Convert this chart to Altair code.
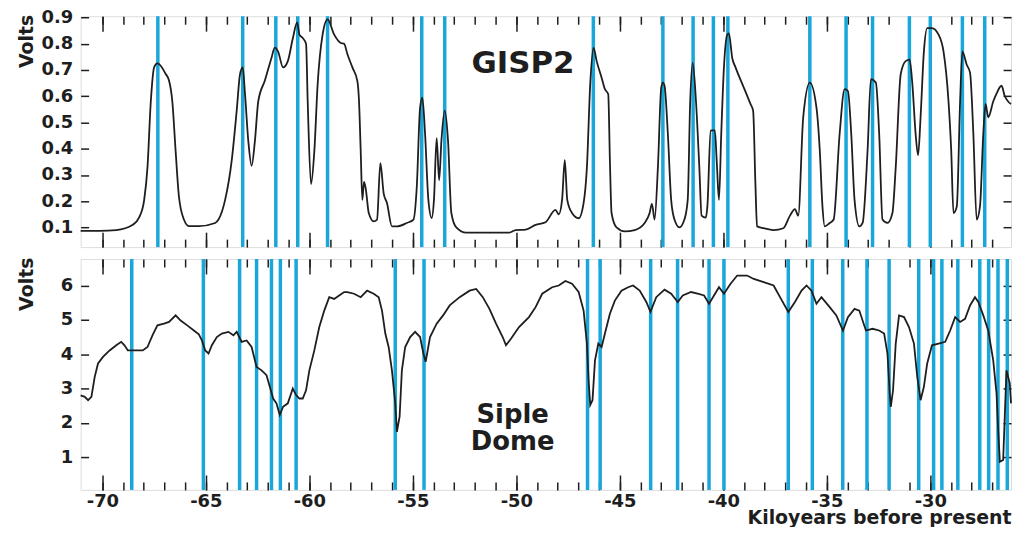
import altair as alt
import pandas as pd

BLUE = "#19a6d9"
INK = "#1e1e1e"
FONT = "DejaVu Sans"

X_DOMAIN = [-71.05, -26.1]
X_MAJOR = [-70, -65, -60, -55, -50, -45, -40, -35, -30]
X_MINOR = [-70, -69, -68, -67, -66, -65, -64, -63, -62, -61, -60, -59, -58, -57,
           -56, -55, -54, -53, -52, -51, -50, -49, -48, -47, -46, -45, -44, -43,
           -42, -41, -40, -39, -38, -37, -36, -35, -34, -33, -32, -31, -30, -29,
           -28, -27]

# ---- GISP2 (top panel) ----
GISP_K = [-71.05, -70.13, -69.33, -68.53, -68.21, -67.98, -67.82, -67.66, -67.50, -67.34,
          -66.94, -66.78, -66.62, -66.46, -66.30, -66.06, -65.82, -65.34, -64.55, -64.39,
          -64.07, -63.75, -63.51, -63.35, -63.22, -63.11, -62.95, -62.79, -62.63, -62.47,
          -62.15, -61.83, -61.67, -61.51, -61.27, -61.04, -60.80, -60.59, -60.48, -60.32,
          -60.16, -60.08, -59.92, -59.76, -59.60, -59.36, -59.12, -58.80, -58.48, -58.32,
          -58.16, -57.92, -57.68, -57.60, -57.52, -57.44, -57.36, -57.28, -57.13, -56.89,
          -56.73, -56.57, -56.41, -56.25, -56.01, -55.77, -55.29, -54.97, -54.81, -54.65,
          -54.54, -54.41, -54.25, -54.09, -53.98, -53.85, -53.73, -53.62, -53.46, -53.30,
          -53.14, -52.90, -52.42, -51.94, -51.14, -50.34, -50.03, -49.55, -49.07, -48.59,
          -48.11, -47.95, -47.79, -47.66, -47.54, -47.31, -46.99, -46.75, -46.59, -46.43,
          -46.27, -46.12, -45.88, -45.72, -45.56, -45.48, -45.40, -45.16, -44.76, -44.28,
          -43.80, -43.56, -43.45, -43.32, -43.16, -43.00, -42.92, -42.84, -42.68, -42.52,
          -42.36, -42.12, -41.88, -41.72, -41.60, -41.48, -41.32, -41.16, -41.05, -40.85,
          -40.77, -40.61, -40.53, -40.41, -40.32, -40.21, -40.10, -39.97, -39.81, -39.73,
          -39.57, -39.41, -39.01, -38.69, -38.56, -38.45, -38.37, -38.05, -37.57, -37.10,
          -36.78, -36.54, -36.38, -36.14, -35.82, -35.50, -35.34, -35.21, -35.10, -34.86,
          -34.67, -34.38, -34.14, -33.98, -33.82, -33.66, -33.43, -33.27, -33.03, -32.87,
          -32.63, -32.47, -32.31, -32.07, -31.83, -31.67, -31.43, -31.19, -31.00, -30.87,
          -30.71, -30.59, -30.47, -30.31, -30.15, -29.92, -29.60, -29.36, -29.12, -28.99,
          -28.88, -28.72, -28.56, -28.45, -28.24, -28.08, -27.92, -27.76, -27.60, -27.44,
          -27.33, -27.20, -26.96, -26.80, -26.56, -26.40, -26.24, -26.10]
GISP_V = [0.087, 0.087, 0.090, 0.110, 0.140, 0.205, 0.330, 0.580, 0.710, 0.725,
          0.685, 0.660, 0.580, 0.390, 0.217, 0.130, 0.105, 0.105, 0.117, 0.130,
          0.205, 0.356, 0.545, 0.684, 0.710, 0.610, 0.430, 0.335, 0.430, 0.580,
          0.660, 0.746, 0.785, 0.770, 0.710, 0.734, 0.820, 0.882, 0.835, 0.822,
          0.800, 0.580, 0.265, 0.390, 0.645, 0.835, 0.893, 0.835, 0.803, 0.800,
          0.760, 0.710, 0.658, 0.580, 0.394, 0.205, 0.274, 0.250, 0.155, 0.123,
          0.130, 0.345, 0.230, 0.193, 0.104, 0.104, 0.117, 0.130, 0.255, 0.557,
          0.595, 0.457, 0.205, 0.136, 0.205, 0.440, 0.280, 0.430, 0.545, 0.430,
          0.155, 0.100, 0.080, 0.080, 0.080, 0.080, 0.090, 0.092, 0.110, 0.120,
          0.167, 0.150, 0.205, 0.356, 0.205, 0.155, 0.135, 0.193, 0.330, 0.646,
          0.784, 0.734, 0.671, 0.627, 0.608, 0.356, 0.155, 0.100, 0.085, 0.090,
          0.117, 0.155, 0.190, 0.130, 0.330, 0.633, 0.652, 0.640, 0.457, 0.205,
          0.130, 0.100, 0.130, 0.205, 0.580, 0.727, 0.580, 0.330, 0.145, 0.137,
          0.180, 0.469, 0.470, 0.470, 0.356, 0.205, 0.457, 0.710, 0.835, 0.840,
          0.746, 0.710, 0.633, 0.571, 0.545, 0.268, 0.104, 0.097, 0.090, 0.097,
          0.145, 0.170, 0.145, 0.520, 0.652, 0.557, 0.394, 0.180, 0.104, 0.117,
          0.130, 0.457, 0.627, 0.620, 0.457, 0.205, 0.104, 0.117, 0.394, 0.665,
          0.652, 0.457, 0.130, 0.117, 0.155, 0.330, 0.684, 0.734, 0.740, 0.650,
          0.457, 0.375, 0.520, 0.770, 0.860, 0.860, 0.835, 0.770, 0.580, 0.394,
          0.155, 0.180, 0.580, 0.770, 0.720, 0.690, 0.457, 0.130, 0.180, 0.457,
          0.571, 0.520, 0.580, 0.610, 0.640, 0.600, 0.580, 0.570]
GISP_EVENTS = [-67.32, -63.22, -61.62, -60.56, -59.12, -54.57, -53.46, -46.28, -42.92,
               -41.46, -40.48, -39.78, -35.82, -34.07, -32.79, -31.01, -30.00, -28.45,
               -27.37]
GISP_Y_DOMAIN = [0.025, 0.905]
GISP_Y_TICKS = [0.1, 0.2, 0.3, 0.4, 0.5, 0.6, 0.7, 0.8, 0.9]

# ---- Siple Dome (bottom panel) ----
SIPLE_K = [-71.05, -70.85, -70.69, -70.53, -70.37, -70.21, -69.97, -69.65, -69.33, -69.09,
           -68.93, -68.77, -68.53, -68.05, -67.82, -67.58, -67.34, -67.02, -66.78, -66.46,
           -66.22, -65.90, -65.58, -65.34, -65.19, -65.03, -64.87, -64.71, -64.47, -64.23,
           -63.91, -63.67, -63.51, -63.27, -63.03, -62.79, -62.55, -62.31, -62.07, -61.91,
           -61.75, -61.59, -61.43, -61.27, -61.04, -60.80, -60.64, -60.48, -60.32, -60.16,
           -60.00, -59.76, -59.52, -59.28, -59.04, -58.80, -58.56, -58.32, -58.16, -57.84,
           -57.52, -57.21, -56.89, -56.65, -56.49, -56.33, -56.17, -56.01, -55.85, -55.77,
           -55.64, -55.53, -55.37, -55.13, -54.89, -54.65, -54.49, -54.38, -54.17, -53.85,
           -53.54, -53.22, -52.74, -52.26, -51.94, -51.62, -51.30, -50.98, -50.66, -50.50,
           -50.26, -49.87, -49.39, -49.07, -48.75, -48.27, -47.95, -47.63, -47.31, -46.99,
           -46.75, -46.59, -46.51, -46.43, -46.32, -46.20, -46.04, -45.88, -45.72, -45.48,
           -45.24, -44.92, -44.60, -44.36, -44.04, -43.72, -43.52, -43.24, -42.84, -42.52,
           -42.20, -41.96, -41.56, -41.24, -40.93, -40.69, -40.45, -40.21, -39.97, -39.65,
           -39.33, -38.85, -38.53, -38.05, -37.57, -37.26, -36.86, -36.54, -36.22, -35.98,
           -35.74, -35.50, -35.26, -34.86, -34.54, -34.22, -33.98, -33.66, -33.43, -33.11,
           -32.79, -32.47, -32.23, -32.07, -31.96, -31.91, -31.80, -31.67, -31.51, -31.27,
           -31.03, -30.79, -30.63, -30.47, -30.31, -30.15, -29.92, -29.60, -29.28, -29.04,
           -28.80, -28.56, -28.32, -28.08, -27.84, -27.68, -27.44, -27.20, -26.96, -26.80,
           -26.72, -26.64, -26.48, -26.32, -26.16, -26.10]
SIPLE_V = [2.80, 2.76, 2.66, 2.76, 3.34, 3.73, 3.92, 4.11, 4.26, 4.36,
           4.26, 4.11, 4.11, 4.11, 4.21, 4.55, 4.84, 4.89, 4.94, 5.13,
           4.98, 4.84, 4.69, 4.58, 4.40, 4.11, 4.02, 4.26, 4.50, 4.60,
           4.65, 4.55, 4.65, 4.36, 4.40, 4.21, 3.63, 3.53, 3.39, 3.05,
           2.71, 2.57, 2.23, 2.47, 2.57, 3.00, 2.81, 2.71, 2.71, 2.95,
           3.53, 4.11, 4.79, 5.27, 5.66, 5.61, 5.71, 5.81, 5.81, 5.76,
           5.66, 5.85, 5.76, 5.66, 5.27, 4.60, 4.21, 3.53, 2.57, 1.74,
           2.18, 3.53, 4.21, 4.50, 4.65, 4.50, 4.02, 3.78, 4.50, 4.89,
           5.13, 5.42, 5.66, 5.85, 5.90, 5.66, 5.32, 4.89, 4.50, 4.26,
           4.45, 4.79, 5.08, 5.37, 5.76, 5.95, 6.00, 6.13, 6.05, 5.81,
           5.27, 4.31, 3.24, 2.52, 2.66, 3.82, 4.31, 4.21, 4.60, 5.18,
           5.56, 5.85, 5.95, 6.00, 5.85, 5.52, 5.23, 5.66, 5.88, 5.76,
           5.52, 5.71, 5.81, 5.76, 5.71, 5.47, 5.71, 5.95, 5.76, 6.05,
           6.29, 6.29, 6.19, 6.10, 6.00, 5.66, 5.23, 5.52, 5.85, 6.00,
           5.85, 5.47, 5.66, 5.37, 5.13, 4.69, 5.08, 5.32, 5.27, 4.69,
           4.74, 4.69, 4.60, 4.02, 2.86, 2.47, 2.95, 4.31, 5.13, 5.08,
           4.79, 4.31, 3.34, 2.66, 3.05, 3.73, 4.26, 4.31, 4.36, 4.69,
           5.08, 4.94, 5.03, 5.42, 5.66, 5.52, 5.13, 4.69, 3.82, 2.86,
           1.79, 0.87, 0.92, 3.53, 3.15, 2.57]
SIPLE_EVENTS = [-68.58, -65.12, -63.37, -62.55, -61.83, -61.40, -60.64, -55.85, -54.46,
                -46.56, -45.95, -43.51, -42.21, -40.69, -39.97, -36.86, -35.70, -34.23,
                -33.06, -31.99, -30.56, -29.84, -29.44, -28.67, -27.61, -27.18, -26.73,
                -26.28]
SIPLE_Y_DOMAIN = [0.05, 6.77]
SIPLE_Y_TICKS = [1, 2, 3, 4, 5, 6]

TEXT_STYLE = dict(font=FONT, fontWeight="bold", color=INK)
LBL = dict(labelFont=FONT, labelFontSize=18, labelFontWeight="bold", labelColor=INK)
TTL = dict(titleFont=FONT, titleFontSize=19, titleFontWeight="bold", titleColor=INK)
PANEL_W, PANEL_H = 935, 232


def tick_axis(orient, values, size):
    return alt.Axis(orient=orient, values=values, tickSize=size, offset=-size,
                    domain=False, grid=False, labels=False, title=None,
                    tickColor=INK, tickWidth=1.5)


def panel(k, v, events, ydomain, yticks, yfmt, label, label_k, label_v,
          label_size, with_x_labels, interp):
    df = pd.DataFrame({"k": k, "v": v})
    ev = pd.DataFrame({"k": events})
    ann = pd.DataFrame({"k": [label_k], "v": [label_v], "t": [label]})
    xs = alt.Scale(domain=X_DOMAIN, nice=False, zero=False)
    ys = alt.Scale(domain=ydomain, nice=False, zero=False)

    if with_x_labels:
        major_bottom = alt.Axis(orient="bottom", values=X_MAJOR, tickSize=15, offset=-15,
                                domain=False, grid=False, tickColor=INK, tickWidth=1.5,
                                labelExpr="'' + datum.value", labelPadding=3,
                                labelFlush=False,
                                title="Kiloyears before present",
                                titleX=PANEL_W, titleY=49, titleAlign="right",
                                titleBaseline="alphabetic", **LBL, **TTL)
    else:
        major_bottom = tick_axis("bottom", X_MAJOR, 15)

    left_axis = alt.Axis(orient="left", values=yticks, tickSize=8, offset=-8,
                         domain=False, grid=False, tickColor=INK, tickWidth=1.5,
                         format=yfmt, labelPadding=8, title="Volts",
                         titleX=-56, titleY=-2, titleAlign="right", titleAngle=270,
                         titleBaseline="alphabetic", **LBL, **TTL)
    right_axis = tick_axis("right", yticks, 8)

    rules = alt.Chart(ev).mark_rule(color=BLUE, strokeWidth=3.5).encode(
        x=alt.X("k:Q", scale=xs, axis=major_bottom))
    line = alt.Chart(df).mark_line(color=INK, strokeWidth=1.8, interpolate=interp).encode(
        x=alt.X("k:Q", scale=xs, axis=tick_axis("bottom", X_MINOR, 8)),
        y=alt.Y("v:Q", scale=ys, axis=left_axis))
    top_major = alt.Chart(df).mark_line(opacity=0).encode(
        x=alt.X("k:Q", scale=xs, axis=tick_axis("top", X_MAJOR, 15)),
        y=alt.Y("v:Q", scale=ys, axis=right_axis))
    top_minor = alt.Chart(df).mark_line(opacity=0).encode(
        x=alt.X("k:Q", scale=xs, axis=tick_axis("top", X_MINOR, 8)),
        y=alt.Y("v:Q", scale=ys, axis=None))
    text = alt.Chart(ann).mark_text(fontSize=label_size, lineBreak="\n", lineHeight=27,
                                    align="center", baseline="middle",
                                    **TEXT_STYLE).encode(
        x=alt.X("k:Q", scale=xs, axis=None),
        y=alt.Y("v:Q", scale=ys, axis=None),
        text="t:N")
    return alt.layer(rules, line, top_major, top_minor, text).resolve_axis(
        x="independent", y="independent").properties(width=PANEL_W, height=PANEL_H)


top = panel(GISP_K, GISP_V, GISP_EVENTS, GISP_Y_DOMAIN, GISP_Y_TICKS, ".1f",
            "GISP2", -49.68, 0.724, 31, False, "monotone")
bottom = panel(SIPLE_K, SIPLE_V, SIPLE_EVENTS, SIPLE_Y_DOMAIN, SIPLE_Y_TICKS, "d",
               "Siple\nDome", -50.18, 2.23, 26, True, "linear")

chart = alt.vconcat(top, bottom, spacing=6).properties(
    padding={"left": 9, "top": -2, "right": 0, "bottom": -3}
).configure_view(stroke="#333333", strokeWidth=1.5).configure(background="white")

chart.save("out.html", embed_options={"renderer": "svg", "actions": False})
